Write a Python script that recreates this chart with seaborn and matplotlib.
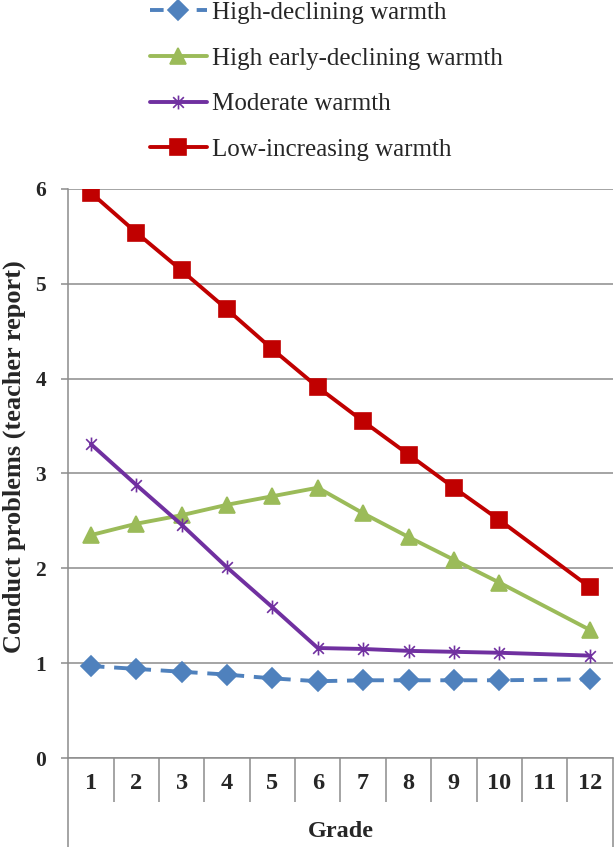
import numpy as np
import pandas as pd
import matplotlib
matplotlib.use("Agg")
import matplotlib.pyplot as plt
import seaborn as sns
from matplotlib.path import Path
from matplotlib.lines import Line2D

# 数据 (grade 11 has no observation)
grades = [1, 2, 3, 4, 5, 6, 7, 8, 9, 10, 12]
high_declining = [0.97, 0.94, 0.91, 0.88, 0.84, 0.81, 0.82, 0.82, 0.82, 0.82, 0.83]
high_early_declining = [2.35, 2.47, 2.56, 2.67, 2.76, 2.85, 2.58, 2.33, 2.09, 1.85, 1.35]
moderate = [3.31, 2.88, 2.46, 2.01, 1.59, 1.16, 1.15, 1.13, 1.12, 1.11, 1.08]
low_increasing = [5.96, 5.54, 5.14, 4.73, 4.31, 3.91, 3.55, 3.20, 2.85, 2.51, 1.80]
grade_labels = [str(g) for g in range(1, 13)]
series_names = ["High-declining warmth", "High early-declining warmth",
                "Moderate warmth", "Low-increasing warmth"]

df = pd.DataFrame({
    "Grade": grades * 4,
    "value": high_declining + high_early_declining + moderate + low_increasing,
    "group": np.repeat(series_names, len(grades)),
})

sns.set_style("white")
plt.rcParams["font.family"] = ["Liberation Serif", "DejaVu Serif"]

# Excel-style star marker
star = Path([(-1, -1), (1, 1), (-1, 1), (1, -1), (0, -1.3), (0, 1.3)],
            [Path.MOVETO, Path.LINETO, Path.MOVETO, Path.LINETO, Path.MOVETO, Path.LINETO])

styles = {
    "High-declining warmth": dict(color="#4F81BD", marker="D", ms=10, ls=(0, (3.5, 2.5))),
    "High early-declining warmth": dict(color="#9BBB59", marker="^", ms=12, ls="-"),
    "Moderate warmth": dict(color="#7030A0", marker=star, ms=10, ls="-"),
    "Low-increasing warmth": dict(color="#C00000", marker="s", ms=11.5, ls="-"),
}
grid_col = "#8C8C8C"

fig = plt.figure(figsize=(6.14, 8.47), dpi=100)
ax = fig.add_axes([0.111, 0.105, 0.887, 0.672])

for name in series_names:
    st = styles[name]
    sub = df[df["group"] == name]
    sns.lineplot(data=sub, x="Grade", y="value", ax=ax, color=st["color"],
                 linewidth=2.8, linestyle=st["ls"], marker=st["marker"],
                 markersize=st["ms"], markeredgecolor=st["color"],
                 markerfacecolor=st["color"], markeredgewidth=1.2,
                 label=name, legend=False)

ax.set_xlim(0.5, 12.5)
ax.set_ylim(0, 6)
ax.set_yticks(range(0, 7))
ax.yaxis.grid(True, color=grid_col, linewidth=1.1)
ax.set_axisbelow(True)
for s in ["top", "right"]:
    ax.spines[s].set_visible(False)
for s in ["left", "bottom"]:
    ax.spines[s].set_color(grid_col)
    ax.spines[s].set_linewidth(1.1)

ax.set_xticks(range(1, 13))
ax.set_xticklabels(grade_labels)
ax.set_xticks(np.arange(1.5, 12.5, 1), minor=True)
ax.tick_params(axis="x", which="major", length=0, pad=11, labelsize=17.5)
ax.tick_params(axis="x", which="minor", bottom=True, length=32, width=1.1, color=grid_col,
               direction="out")
ax.tick_params(axis="y", length=5, width=1.1, color=grid_col, direction="out", pad=11,
               labelsize=15.5, left=True)
for lab in ax.get_xticklabels() + ax.get_yticklabels():
    lab.set_fontweight("bold")

# left and right borders of the category table continue below the axis
for xe in [0, 1]:
    ax.add_line(Line2D([xe, xe], [0, -0.16], transform=ax.transAxes, color=grid_col,
                       linewidth=1.1, clip_on=False))

ax.set_xlabel("Grade", fontsize=17.5, fontweight="bold", labelpad=10)
ax.set_ylabel("Conduct problems (teacher report)", fontsize=19, fontweight="bold")
ax.yaxis.set_label_coords(-0.078, 0.529)

handles = []
for name in series_names:
    st = styles[name]
    handles.append(Line2D([], [], color=st["color"], linewidth=2.8, linestyle=st["ls"],
                          marker=st["marker"], markersize=st["ms"], markeredgecolor=st["color"],
                          markerfacecolor=st["color"], markeredgewidth=1.2))
fig.legend(handles, series_names, loc="upper left", bbox_to_anchor=(0.2076, 1.025), frameon=False,
           fontsize=18, handlelength=2.28, handletextpad=0.2, labelspacing=0.93)

plt.savefig("out.png", dpi=100)
